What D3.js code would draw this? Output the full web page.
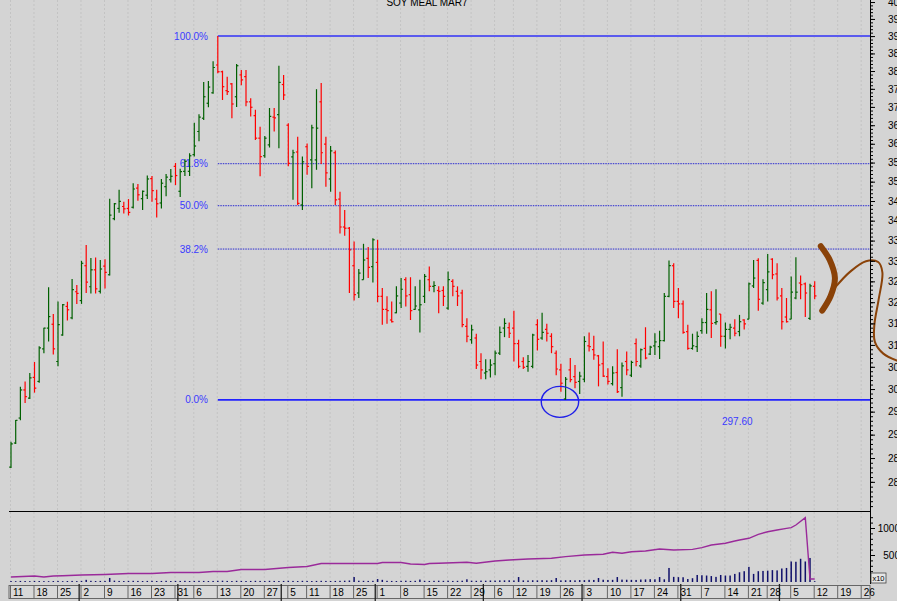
<!DOCTYPE html>
<html>
<head>
<meta charset="utf-8">
<script src="https://cdnjs.cloudflare.com/ajax/libs/d3/7.8.5/d3.min.js"></script>
<style>
  body { margin: 0; background: #d4d4d4; }
  svg { display: block; font-family: "Liberation Sans", Arial, sans-serif; }
</style>
</head>
<body>
<svg id="chart"></svg>
<script>
// daily bars, SOY MEAL MAR7, 11 Apr 2016 .. 12 Dec 2016
var opens = [283.1,288.2,293.6,299.8,298.0,302.6,301.7,309.1,313.9,314.8,306.2,312.3,319.0,316.3,322.5,320.4,328.8,323.7,327.8,322.6,
  328.7,326.6,340.5,343.1,343.6,343.1,343.4,348.3,345.6,346.5,350.8,345.5,344.5,348.7,350.5,354.0,347.5,352.7,352.7,357.1,
  363.3,366.9,371.0,373.9,381.7,379.8,374.5,376.4,372.8,378.9,378.4,371.4,367.6,361.5,356.8,359.7,367.2,367.9,376.2,365.0,
  356.5,357.8,344.0,359.2,355.7,355.7,371.4,359.9,350.7,357.6,345.5,338.4,338.1,328.8,322.2,325.4,330.6,328.6,329.6,321.4,
  318.3,315.8,317.5,319.8,325.4,321.8,318.3,318.2,321.4,325.4,323.8,322.8,322.8,318.6,325.0,322.6,322.2,314.3,311.2,311.6,
  306.2,303.6,304.3,305.7,308.1,313.9,314.0,313.9,310.3,306.2,305.1,305.1,314.7,311.6,313.6,312.0,308.1,304.3,297.8,304.3,
  302.8,301.7,302.2,309.8,308.9,307.5,305.7,302.8,301.2,303.7,300.3,306.2,303.1,310.3,305.2,309.2,307.9,309.8,309.6,311.0,
  321.4,328.8,320.2,319.6,313.1,309.2,309.6,313.3,315.2,318.2,315.2,317.2,312.0,313.6,313.9,313.1,315.8,316.0,323.9,330.1,
  319.8,323.0,330.4,326.8,321.5,316.5,316.0,321.0,324.6,324.4,316.2,323.8];
var highs = [288.5,293.2,300.5,301.7,303.6,306.1,309.7,314.0,323.6,317.2,320.2,319.6,320.1,325.6,324.1,330.0,333.9,330.7,330.8,330.2,
  330.4,345.6,344.5,347.9,344.8,345.5,349.6,349.4,347.7,351.6,351.5,347.9,350.7,352.0,353.3,354.9,353.4,355.9,357.5,365.7,
  368.0,376.9,377.2,382.8,390.0,380.1,378.4,376.6,382.0,380.3,380.3,372.4,369.2,364.6,362.1,369.7,369.7,381.5,378.9,365.5,
  358.4,361.9,356.6,360.1,365.1,374.9,376.6,361.9,359.4,358.2,347.4,342.7,338.4,334.8,328.0,334.2,333.4,335.6,335.2,323.4,
  321.4,320.2,323.8,325.8,326.0,326.0,323.8,325.4,326.8,328.6,325.0,323.8,323.8,327.4,325.5,323.8,323.0,316.2,314.7,312.6,
  308.1,306.7,306.7,308.7,314.3,316.2,315.2,318.0,311.2,307.2,307.7,312.6,316.0,317.5,314.9,312.7,308.7,305.7,302.7,307.0,
  305.4,303.9,312.0,312.9,312.1,307.7,310.8,304.7,305.1,309.0,306.0,308.5,306.4,311.5,309.2,314.1,309.8,312.7,313.3,322.2,
  330.1,329.4,323.4,320.4,314.7,312.6,313.1,316.2,322.2,322.6,323.1,317.2,315.2,314.9,316.0,317.0,316.0,324.7,330.2,330.6,
  325.5,331.7,330.6,329.4,323.4,321.0,326.2,330.9,326.4,324.7,324.4,325.0];
var lows = [282.9,288.0,293.1,296.9,297.8,299.2,301.4,308.1,310.8,307.8,305.1,312.1,315.7,316.0,319.6,319.6,322.2,322.1,322.1,322.1,
  323.3,326.4,340.1,342.0,341.8,341.3,343.1,345.1,342.7,345.5,344.8,340.8,343.1,346.2,349.8,349.1,346.0,351.5,351.5,356.6,
  360.7,366.4,369.9,373.6,379.4,371.9,373.3,366.9,370.0,376.0,370.2,367.4,361.0,351.4,356.3,359.0,363.3,358.8,371.9,354.0,
  345.3,344.0,342.7,351.8,348.3,353.1,354.6,348.7,347.4,344.0,336.8,336.2,322.2,320.4,321.0,325.4,325.8,324.7,320.0,314.7,
  314.9,315.2,317.4,318.6,319.0,315.8,318.2,312.9,319.8,322.6,322.4,317.4,319.1,318.2,321.4,319.1,314.1,310.6,310.3,304.5,
  302.2,302.2,302.6,303.1,307.7,311.8,311.6,306.2,304.7,304.5,303.9,304.7,308.7,311.2,310.8,308.1,303.1,299.4,297.6,301.5,
  300.2,298.9,301.5,308.5,306.6,300.6,302.7,301.0,300.8,299.1,298.3,303.1,302.7,305.1,304.8,306.7,307.7,307.7,306.8,310.8,
  321.2,318.6,316.2,312.6,308.9,308.9,308.4,312.6,312.6,311.6,314.7,309.6,309.2,311.3,312.0,312.0,313.6,316.0,323.4,318.0,
  319.4,320.2,325.5,320.4,313.6,315.2,316.0,320.7,320.7,316.5,315.8,320.7];
var closes = [288.0,293.1,299.8,298.3,302.5,300.2,309.3,313.9,316.6,309.1,314.7,319.4,318.2,323.0,322.1,329.4,324.8,327.8,323.2,328.0,
  327.2,341.4,344.3,344.9,343.0,342.1,348.1,346.6,347.5,350.7,347.7,344.3,349.6,351.2,351.4,351.6,352.6,355.3,356.8,359.4,
  367.2,372.8,375.5,381.0,379.8,375.6,374.2,370.8,381.5,377.5,371.4,369.9,361.5,356.6,361.5,367.4,367.0,376.8,373.3,354.8,
  357.6,344.4,355.2,354.0,364.3,364.2,357.6,352.3,358.1,345.3,338.4,338.1,332.7,321.8,327.0,330.2,328.4,335.2,321.4,318.3,
  318.0,315.4,321.5,323.1,321.5,318.0,319.1,319.4,326.2,323.8,324.0,322.6,321.4,325.4,323.8,321.5,314.7,312.0,313.5,305.4,
  304.3,303.9,305.4,308.1,312.9,315.0,312.7,310.3,305.1,304.9,306.2,312.3,311.3,312.9,312.7,309.6,304.5,301.3,302.2,302.1,
  301.5,302.9,310.8,309.6,307.7,305.4,302.9,301.7,303.6,299.4,305.2,304.3,306.0,306.2,308.9,307.0,309.5,310.7,311.0,321.4,
  328.8,320.2,319.6,312.9,309.2,309.8,312.0,315.2,318.3,315.0,315.4,312.0,313.6,314.1,312.7,315.4,314.9,324.4,325.8,320.7,
  324.7,327.3,326.6,321.0,315.4,315.4,322.4,322.4,324.2,322.2,323.9,321.5];
// volume (x10), one per bar
var volumes = [18,15,20,18,16,20,18,16,15,18,20,15,18,20,16,20,40,22,18,20,
  20,75,25,20,18,20,22,20,18,20,22,18,20,22,18,20,20,22,18,20,
  22,20,18,20,22,24,20,18,22,20,18,20,22,20,18,22,20,18,20,22,
  20,18,22,20,18,20,22,20,18,20,22,24,28,92,24,22,20,22,55,40,
  22,20,18,22,24,20,22,45,22,20,22,24,22,24,20,22,24,50,24,22,
  26,24,28,26,30,30,32,28,92,30,28,32,30,34,30,34,74,30,32,34,
  30,36,34,40,38,74,42,38,40,92,44,42,40,38,46,48,52,50,92,50,
  260,95,90,88,55,70,130,125,120,110,95,130,120,120,150,180,200,280,150,200,
  205,210,220,215,250,260,380,375,430,380,445,15];
// open interest (x10), read at these bar numbers
var oiDays = [0,5,7,9,11,15,20,25,30,34,40,43,46,49,54,59,63,66,78,79,83,85,88,89,91,
  97,99,103,106,110,115,118,122,126,128,130,132,135,138,141,145,147,149,152,154,155,157,159,161,163,165,166,167,169,170,171];
var oiValues = [93,111,93,111,117,130,139,157,157,176,176,194,194,231,231,268,287,343,343,361,361,333,324,343,348,
  365,348,389,408,426,439,469,500,513,550,532,561,574,611,593,605,636,685,717,760,778,809,883,931,963,994,1006,1055,1191,55,55];

var holidays = ["2016-05-30", "2016-07-04", "2016-09-05", "2016-11-24"];
var fibLevels = [0, 0.382, 0.5, 0.618, 1];
var fibLabels = ["0.0%", "38.2%", "50.0%", "61.8%", "100.0%"];
var swingHigh = 390.0, swingLow = 297.60, highBar = 44;
var priceMajor = d3.range(280, 401, 5);
var priceMinor = d3.range(275, 401, 1);
var volMajor = [500, 1000];
var volMinor = d3.range(100, 1201, 100);
var title = "SOY  MEAL MAR7";

var width = 897, height = 601;

var svg = d3.select("#chart").attr("width", width).attr("height", height);

// trading days through the end of December (future days are blank)
var fmt = d3.timeFormat("%Y-%m-%d");
var days = d3.timeDay.range(new Date(2016, 3, 11), new Date(2016, 11, 31))
  .filter(function(d) { return d.getDay() > 0 && d.getDay() < 6 && holidays.indexOf(fmt(d)) < 0; });

var x = d3.scaleLinear().domain([0, 1]).range([11, 15.7]);
var y = d3.scaleLog().domain([274.0, 400.6]).range([511, 0]);
var yv = d3.scaleLinear().domain([0, 1000]).range([582, 528]);

var plotLeft = 9, plotRight = 870, priceBottom = 511, volBottom = 584;

svg.append("rect").attr("width", width).attr("height", height).attr("fill", "#d4d4d4");

svg.append("defs").append("clipPath").attr("id", "clip")
  .append("rect").attr("x", plotLeft).attr("y", 0).attr("width", plotRight - plotLeft).attr("height", priceBottom);

// week starts and month starts
var weekStarts = [], monthStarts = [];
days.forEach(function(d, i) {
  if (i === 0 || d3.timeMonday.floor(d) > days[i - 1]) weekStarts.push(i);
  if (i > 0 && d.getMonth() !== days[i - 1].getMonth()) monthStarts.push(i);
});
weekStarts = weekStarts.filter(function(i) { return x(i) < plotRight; });

// vertical grid
svg.append("g").selectAll("line").data(weekStarts).enter().append("line")
  .attr("x1", function(i) { return x(i) - 0.5; })
  .attr("x2", function(i) { return x(i) - 0.5; })
  .attr("y1", 0).attr("y2", volBottom)
  .attr("stroke", "#c3c3c3").attr("stroke-dasharray", "2,2");

svg.append("text").attr("x", 427).attr("y", 6).attr("text-anchor", "middle")
  .attr("font-size", 10).attr("fill", "#000").text(title);

// fibonacci retracement
var fibs = fibLevels.map(function(f, k) {
  return { price: swingLow + f * (swingHigh - swingLow), label: fibLabels[k], f: f };
});
var fg = svg.append("g");
fg.selectAll("text").data(fibs).enter().append("text")
  .attr("x", 208).attr("y", function(d) { return y(d.price); })
  .attr("dy", "0.35em").attr("text-anchor", "end")
  .attr("font-size", 10).attr("fill", "#3a3aff").text(function(d) { return d.label; });
fg.selectAll("line").data(fibs).enter().append("line")
  .attr("x1", x(highBar)).attr("x2", plotRight)
  .attr("y1", function(d) { return y(d.price); }).attr("y2", function(d) { return y(d.price); })
  .attr("stroke", function(d) { return d.f === 1 ? "#5a5aee" : (d.f === 0 ? "#2222ff" : "#2a2ad0"); })
  .attr("stroke-width", function(d) { return d.f === 1 ? 2 : (d.f === 0 ? 1.6 : 1); })
  .attr("stroke-dasharray", function(d) { return (d.f === 0 || d.f === 1) ? null : "1.5,1"; });
fg.append("text").attr("x", 722).attr("y", y(swingLow) + 22).attr("dy", "0.35em")
  .attr("font-size", 10).attr("fill", "#3a3aff").text(swingLow.toFixed(2));

// OHLC bars
var bars = svg.append("g").attr("clip-path", "url(#clip)").selectAll("g")
  .data(d3.range(closes.length)).enter().append("g")
  .attr("stroke", function(i) { return closes[i] >= opens[i] ? "#006000" : "#ff0000"; })
  .attr("stroke-width", 1.2);
bars.append("line")
  .attr("x1", function(i) { return x(i); }).attr("x2", function(i) { return x(i); })
  .attr("y1", function(i) { return y(highs[i]); }).attr("y2", function(i) { return y(lows[i]); });
bars.append("line")
  .attr("x1", function(i) { return x(i) - 1.8; }).attr("x2", function(i) { return x(i); })
  .attr("y1", function(i) { return y(opens[i]); }).attr("y2", function(i) { return y(opens[i]); });
bars.append("line")
  .attr("x1", function(i) { return x(i); }).attr("x2", function(i) { return x(i) + 1.8; })
  .attr("y1", function(i) { return y(closes[i]); }).attr("y2", function(i) { return y(closes[i]); });

// circled low
svg.append("ellipse").attr("cx", x(116.8)).attr("cy", y(swingLow) + 2)
  .attr("rx", 18.7).attr("ry", 15.5).attr("fill", "none").attr("stroke", "#2020e8").attr("stroke-width", 1.4);

// hand drawn marks (bar number, price)
var bracket = [[172.3, 333.6], [174.2, 330.2], [175.3, 325.8], [174.4, 321.5], [172.6, 318.0]];
var swoosh = [[175.4, 323.6], [178.5, 327.3], [181.9, 329.9], [184.5, 329.7], [185.4, 327.2], [184.6, 320.6],
  [183.7, 314.7], [183.8, 310.7], [185.6, 308.0], [189, 306.2]];
var hand = d3.line().x(function(d) { return x(d[0]); }).y(function(d) { return y(d[1]); }).curve(d3.curveCatmullRom);
svg.append("path").attr("d", hand(bracket)).attr("fill", "none")
  .attr("stroke", "#8a4208").attr("stroke-width", 6).attr("stroke-linecap", "round");
svg.append("path").attr("d", hand(swoosh)).attr("fill", "none")
  .attr("stroke", "#8a4208").attr("stroke-width", 2);

// volume panel
svg.append("line").attr("x1", plotLeft).attr("x2", plotRight).attr("y1", priceBottom + 0.5).attr("y2", priceBottom + 0.5)
  .attr("stroke", "#000");
svg.append("g").selectAll("rect").data(d3.range(volumes.length)).enter().append("rect")
  .attr("x", function(i) { return x(i) - 0.75; }).attr("width", 1.5)
  .attr("y", function(i) { return yv(volumes[i]); })
  .attr("height", function(i) { return yv(0) - yv(volumes[i]); })
  .attr("fill", "#10106a");
var oiLine = d3.line().x(function(d, k) { return x(oiDays[k]); }).y(function(d) { return yv(d); });
svg.append("path").attr("d", oiLine(oiValues)).attr("fill", "none")
  .attr("stroke", "#9a2a9a").attr("stroke-width", 1.4);

// right axes
var pAxis = svg.append("g").attr("transform", "translate(" + plotRight + ",0)")
  .call(d3.axisRight(y).tickValues(priceMajor).tickSize(5).tickSizeOuter(0).tickPadding(13).tickFormat(d3.format("d")));
pAxis.append("g").call(d3.axisRight(y).tickValues(priceMinor).tickSize(3).tickFormat(""))
  .select(".domain").remove();
var vAxis = svg.append("g").attr("transform", "translate(" + plotRight + ",0)")
  .call(d3.axisRight(yv).tickValues(volMajor).tickSize(5).tickSizeOuter(0).tickPadding(3).tickFormat(d3.format("d")));
vAxis.append("g").call(d3.axisRight(yv).tickValues(volMinor).tickSize(3).tickFormat(""))
  .select(".domain").remove();
vAxis.selectAll(".tick text").attr("text-anchor", "end").attr("x", 30);
[pAxis, vAxis].forEach(function(a) {
  a.selectAll("text").attr("font-size", 10).attr("font-family", "Liberation Sans, Arial, sans-serif").attr("fill", "#000");
  a.selectAll("path, line").attr("stroke", "#000");
});
svg.append("line").attr("x1", plotRight + 0.5).attr("x2", plotRight + 0.5).attr("y1", 0).attr("y2", volBottom)
  .attr("stroke", "#000");
var x10 = svg.append("g").attr("transform", "translate(871,573)");
x10.append("rect").attr("width", 15).attr("height", 10).attr("fill", "#e6e6e6").attr("stroke", "#444").attr("stroke-width", 0.8);
x10.append("text").attr("x", 7.5).attr("y", 8).attr("text-anchor", "middle").attr("font-size", 7.5).text("x10");

// date strip
var strip = svg.append("g");
strip.append("rect").attr("x", plotLeft).attr("y", 585.5).attr("width", plotRight - plotLeft).attr("height", 13)
  .attr("fill", "#d8d8d8").attr("stroke", "#666").attr("stroke-width", 1);
strip.selectAll("line.wk").data(weekStarts).enter().append("line").attr("class", "wk")
  .attr("x1", function(i) { return x(i) - 0.5; }).attr("x2", function(i) { return x(i) - 0.5; })
  .attr("y1", 585.5).attr("y2", 598.5).attr("stroke", "#666");
strip.selectAll("line.mo").data(monthStarts.filter(function(i) { return x(i) < plotRight; })).enter().append("line").attr("class", "mo")
  .attr("x1", function(i) { return x(i - 0.5); }).attr("x2", function(i) { return x(i - 0.5); })
  .attr("y1", 584).attr("y2", 601).attr("stroke", "#222").attr("stroke-width", 1.3);
strip.selectAll("text").data(weekStarts).enter().append("text")
  .attr("x", function(i) { return x(i) + 2; }).attr("y", 596)
  .attr("font-size", 10).attr("fill", "#000")
  .text(function(i) { return days[i].getDate(); });
</script>
</body>
</html>
